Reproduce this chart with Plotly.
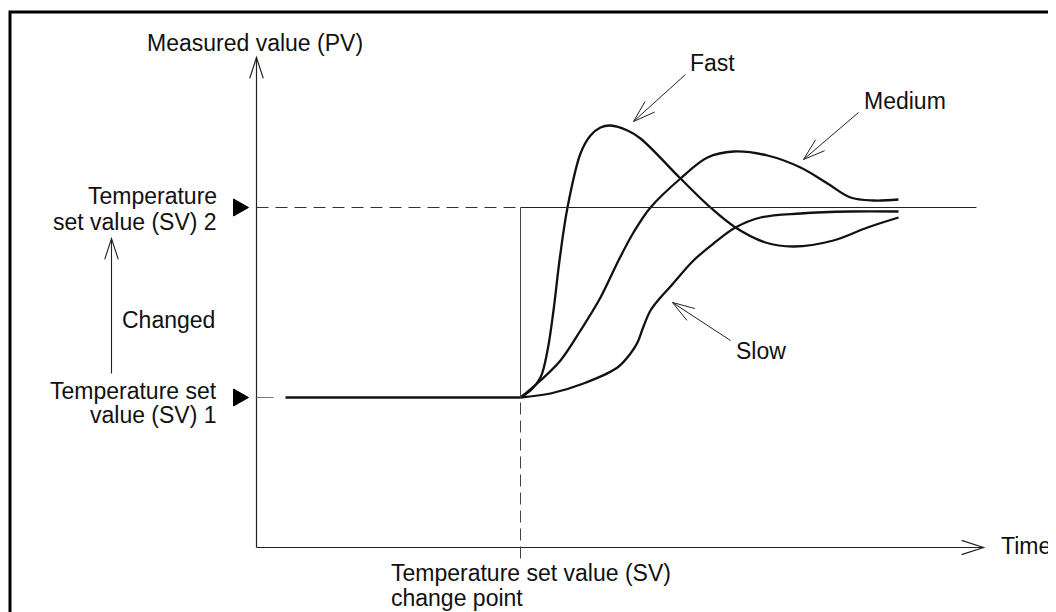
import math
import plotly.graph_objects as go

# ---- diagram levels (data units) ----
SV1 = 150          # Temperature set value (SV) 1
SV2 = 340          # Temperature set value (SV) 2
T_CHANGE = 264     # SV change point on the time axis
T_AXIS_END = 727   # end of the time axis (arrow tip)
PV_AXIS_END = 490  # end of the PV axis (arrow tip)
T_BASE_START = 29  # start of the steady PV line before the change
SV2_LINE_END = 720

# ---- response curves (time, PV) ----
fast_t = [264, 274, 284, 291, 297, 303, 311, 324, 334, 344, 354, 371, 384, 424, 454, 479, 509, 537, 577, 611, 642]
fast_pv = [150, 157, 170, 197, 237, 287, 340, 394, 412, 420, 422, 417, 409, 369, 340, 320, 305, 301, 307, 320, 330]

medium_t = [264, 284, 304, 324, 344, 362, 377, 394, 424, 451, 477, 511, 544, 571, 594, 617, 642]
medium_pv = [150, 167, 187, 217, 250, 287, 315, 340, 369, 390, 396, 392, 380, 364, 350, 347, 348]

slow_t = [264, 294, 327, 361, 374, 381, 387, 394, 404, 414, 437, 457, 479, 504, 544, 594, 642]
slow_pv = [150, 154, 164, 180, 194, 205, 221, 237, 250, 261, 287, 304, 320, 330, 334, 336, 336]

# ---- label texts and their anchor points ----
curve_labels = ["Fast", "Medium", "Slow"]
curve_label_xy = [(431, 485), (605, 447), (477, 197)]
curve_arrow_tail = [(429, 473), (602, 435), (474, 207)]
curve_arrow_tip = [(377, 426), (547, 388), (416, 245)]

FONT = "Liberation Sans, Arial, Helvetica, sans-serif"
FS = 23
INK = "#111111"

fig = go.Figure()

curve_style = dict(mode="lines", line=dict(color=INK, width=2.3, shape="spline", smoothing=1.0),
                   hoverinfo="skip", showlegend=False)
fig.add_trace(go.Scatter(x=fast_t, y=fast_pv, name="Fast", **curve_style))
fig.add_trace(go.Scatter(x=medium_t, y=medium_pv, name="Medium", **curve_style))
fig.add_trace(go.Scatter(x=slow_t, y=slow_pv, name="Slow", **curve_style))
# steady PV before the change
fig.add_trace(go.Scatter(x=[T_BASE_START, T_CHANGE], y=[SV1, SV1], mode="lines",
                         line=dict(color=INK, width=2.6), hoverinfo="skip", showlegend=False))

shapes = []


def seg(x0, y0, x1, y1, color="#222222", width=1.2, dash=None):
    d = dict(type="line", xref="x", yref="y", x0=x0, y0=y0, x1=x1, y1=y1,
             line=dict(color=color, width=width))
    if dash:
        d["line"]["dash"] = dash
    shapes.append(d)


def arrow(tail, tip, length=23, half=18, color="#222222", width=1.2):
    seg(tail[0], tail[1], tip[0], tip[1], color=color, width=width)
    ang = math.atan2(tail[1] - tip[1], tail[0] - tip[0])
    pts = []
    for s in (-1, 1):
        a = ang + s * math.radians(half)
        pts.append((tip[0] + length * math.cos(a), tip[1] + length * math.sin(a)))
    path = "M {:.1f},{:.1f} L {:.1f},{:.1f} L {:.1f},{:.1f}".format(
        pts[0][0], pts[0][1], tip[0], tip[1], pts[1][0], pts[1][1])
    shapes.append(dict(type="path", xref="x", yref="y", path=path,
                       line=dict(color=color, width=width)))


# outer frame
shapes.append(dict(type="rect", xref="x", yref="y", x0=-246.5, y0=-120, x1=830, y1=535.5,
                   line=dict(color="#000000", width=3), fillcolor="rgba(0,0,0,0)"))

# axes with open arrowheads
arrow((0, 0), (0, PV_AXIS_END), length=22, half=18, width=1.2)
arrow((0, 0), (T_AXIS_END, 0), length=23, half=18, width=1.2)

# SV2 level: dashed up to the change point, solid after
seg(0, SV2, T_CHANGE, SV2, color="#333333", width=1.0, dash="12px,7px")
seg(T_CHANGE, SV2, SV2_LINE_END, SV2, color="#222222", width=1.0)
# SV1 level start stub
seg(0, SV1, 17, SV1, color="#777777", width=1.0)
# change point vertical
seg(T_CHANGE, SV1, T_CHANGE, SV2, color="#444444", width=1.0)
seg(T_CHANGE, -11, T_CHANGE, SV1, color="#444444", width=1.0, dash="12px,6px")

# filled triangle markers at the SV levels
for lvl in (SV1, SV2):
    shapes.append(dict(type="path", xref="x", yref="y",
                       path="M -23,{a:.1f} L -8,{b:.1f} L -23,{c:.1f} Z".format(a=lvl + 8.5, b=lvl, c=lvl - 8.5),
                       fillcolor="#000000", line=dict(color="#000000", width=1)))

# "Changed" arrow
arrow((-145, 174), (-145, 309), length=22, half=18, width=1.1)

# curve label arrows
for tail, tip in zip(curve_arrow_tail, curve_arrow_tip):
    arrow(tail, tip, length=23, half=18, width=1.0)

annotations = []


def label(text, x, y, xanchor="left"):
    annotations.append(dict(text=text, x=x, y=y, xref="x", yref="y", xanchor=xanchor,
                            yanchor="middle", showarrow=False,
                            font=dict(family=FONT, size=FS, color=INK)))


for txt, (lx, ly) in zip(curve_labels, curve_label_xy):
    label(txt, lx, ly)

label("Measured value (PV)", -2, 505, xanchor="center")
label("Time", 742, 2)
label("Changed", -137, 228)
label("Temperature", -38, 352, xanchor="right")
label("set value (SV) 2", -38, 326, xanchor="right")
label("Temperature set", -38, 157, xanchor="right")
label("value (SV) 1", -38, 133, xanchor="right")
label("Temperature set value (SV)", 132, -25)
label("change point", 132, -50)

# the page places the figure 8px in from the window's top-left corner,
# so the figure is sized to fit the remaining window without scrollbars
fig.update_layout(
    width=1048, height=604,
    margin=dict(l=0, r=0, t=0, b=0),
    paper_bgcolor="white", plot_bgcolor="white",
    xaxis=dict(range=[-248.5, 799.5], visible=False, fixedrange=True),
    yaxis=dict(range=[-64.5, 539.5], visible=False, fixedrange=True),
    shapes=shapes, annotations=annotations, showlegend=False,
)

fig.write_html("out.html")
